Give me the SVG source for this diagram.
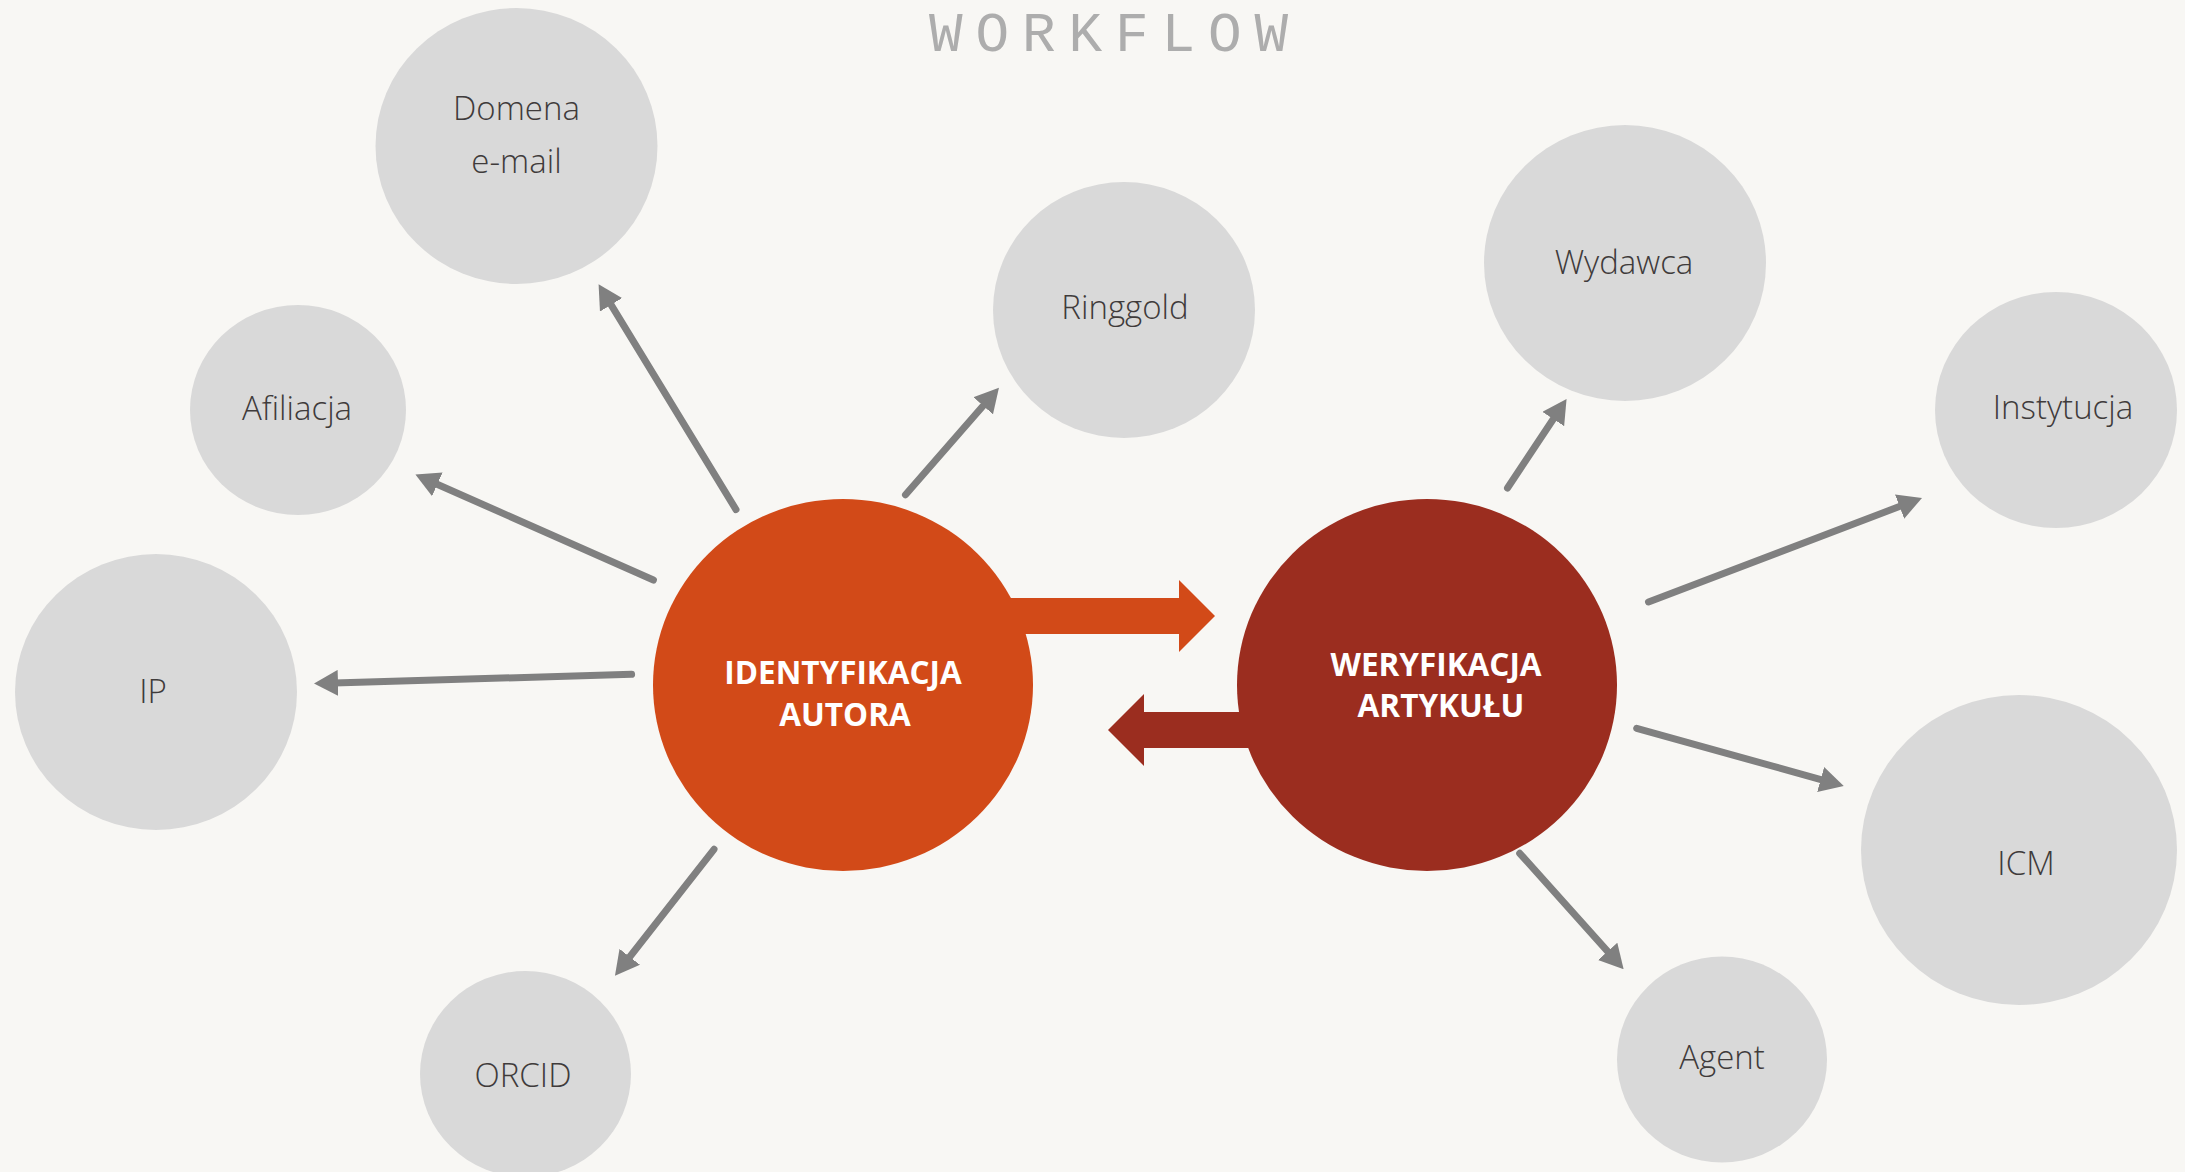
<svg xmlns="http://www.w3.org/2000/svg" width="2185" height="1172" viewBox="0 0 2185 1172">
<style>
.bg{fill:#F8F7F4}
.sat{fill:#D9D9D9}
.lbl{font-family:"Open Sans","Noto Sans","Liberation Sans",sans-serif;font-weight:300;font-size:33px;fill:#3F3B3B;text-anchor:middle}
.main{font-family:"Open Sans","Noto Sans","Liberation Sans",sans-serif;font-weight:700;font-size:31.5px;fill:#FFFFFF;text-anchor:middle}
.title{font-family:"Courier New","Liberation Mono",monospace;font-size:56px;fill:#ADADAD;letter-spacing:12.9px}
.conn{stroke:#808080;stroke-width:7;stroke-linecap:round;fill:none;marker-end:url(#ah)}
</style>
<defs>
<marker id="ah" viewBox="0 0 24 26" refX="4" refY="13" markerWidth="24" markerHeight="26" markerUnits="userSpaceOnUse" orient="auto">
<path d="M0,0 L24,13 L0,26 z" fill="#808080"/>
</marker>
</defs>
<rect class="bg" x="0" y="0" width="2185" height="1172"/>
<text class="title" x="929" y="51">WORKFLOW</text>

<g id="node-domena">
<ellipse class="sat" cx="516.5" cy="146" rx="141" ry="138"/>
<text class="lbl" x="516.5" y="120">Domena</text>
<text class="lbl" x="516.5" y="173">e-mail</text>
</g>
<g id="node-ringgold">
<ellipse class="sat" cx="1124" cy="310" rx="131" ry="128"/>
<text class="lbl" x="1125" y="319">Ringgold</text>
</g>
<g id="node-afiliacja">
<ellipse class="sat" cx="298" cy="410" rx="108" ry="105"/>
<text class="lbl" x="297" y="420">Afiliacja</text>
</g>
<g id="node-ip">
<ellipse class="sat" cx="156" cy="692" rx="141" ry="138"/>
<text class="lbl" x="153" y="703">IP</text>
</g>
<g id="node-orcid">
<ellipse class="sat" cx="525.5" cy="1074" rx="105.5" ry="103"/>
<text class="lbl" x="523" y="1087">ORCID</text>
</g>
<g id="node-wydawca">
<ellipse class="sat" cx="1625" cy="263" rx="141" ry="138"/>
<text class="lbl" x="1624" y="274">Wydawca</text>
</g>
<g id="node-instytucja">
<ellipse class="sat" cx="2056" cy="410" rx="121" ry="118"/>
<text class="lbl" x="2063" y="419">Instytucja</text>
</g>
<g id="node-icm">
<ellipse class="sat" cx="2019" cy="850" rx="158" ry="155"/>
<text class="lbl" x="2026" y="875">ICM</text>
</g>
<g id="node-agent">
<ellipse class="sat" cx="1722" cy="1059.5" rx="105" ry="103"/>
<text class="lbl" x="1722" y="1069">Agent</text>
</g>
<g id="node-identyfikacja">
<ellipse cx="843" cy="685" rx="190" ry="186" fill="#D24A18"/>
<text class="main" x="843" y="684">IDENTYFIKACJA</text>
<text class="main" x="845" y="726">AUTORA</text>
</g>
<g id="node-weryfikacja">
<ellipse cx="1427" cy="685" rx="190" ry="186" fill="#9B2D1F"/>
<text class="main" x="1436" y="676">WERYFIKACJA</text>
<text class="main" x="1441" y="717">ARTYKUŁU</text>
</g>

<g id="connectors">
<polygon points="1000,598 1179,598 1179,580 1215,616 1179,652 1179,634 1000,634" fill="#D24A18"/>
<polygon points="1300,712 1144,712 1144,694 1108,730 1144,766 1144,748 1300,748" fill="#9B2D1F"/>
<line class="conn" x1="736" y1="509.6" x2="609" y2="301.4"/>
<line class="conn" x1="905.5" y1="494.8" x2="985.8" y2="402.8"/>
<line class="conn" x1="653.4" y1="580" x2="433.7" y2="482.7"/>
<line class="conn" x1="631.6" y1="674.3" x2="334" y2="683"/>
<line class="conn" x1="714" y1="849.3" x2="627.3" y2="960"/>
<line class="conn" x1="1507.5" y1="488" x2="1555.5" y2="415.7"/>
<line class="conn" x1="1648.5" y1="602" x2="1903.3" y2="505.1"/>
<line class="conn" x1="1636.7" y1="728.3" x2="1824.5" y2="780.6"/>
<line class="conn" x1="1519.7" y1="853.3" x2="1610.3" y2="954.4"/>
</g>
</svg>
